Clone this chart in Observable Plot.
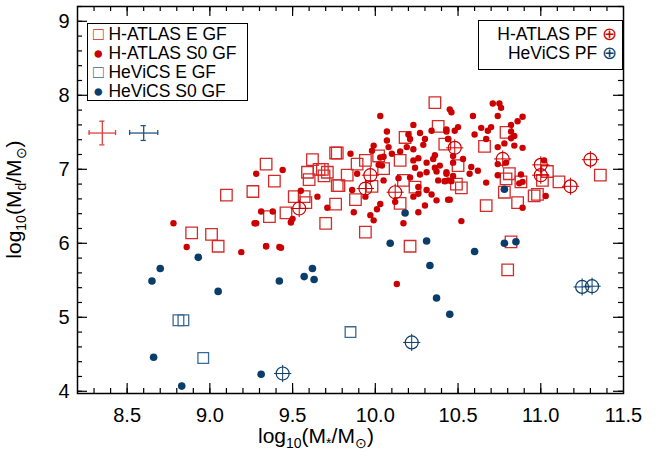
<!DOCTYPE html>
<html><head><meta charset="utf-8">
<script src="https://cdn.jsdelivr.net/npm/d3@7"></script>
<script src="https://cdn.jsdelivr.net/npm/@observablehq/plot@0.6"></script>
<style>
body{margin:0;background:#fff;font-family:"Liberation Sans",Arial,sans-serif}
#wrap{position:relative;width:667px;height:462px}
.lab{position:absolute;font-size:21px;color:#000;white-space:nowrap}
.leg{position:absolute;border:1.5px solid #000;background:#fff;font-size:17.5px;line-height:19px;padding:1px 5px;box-sizing:border-box;white-space:nowrap}
</style></head><body>
<div id="wrap"></div>
<script>
const red="#cc0000", blue="#0b3d6b";
const atlasE=[[9.34,7.07],[9.39,6.84],[9.26,6.70],[9.10,6.65],[9.62,7.13],[9.59,6.96],[9.66,7.00],[9.68,7.00],[9.71,6.96],[9.69,6.91],[9.60,6.86],[9.77,7.22],[9.77,6.78],[9.51,6.63],[9.57,6.63],[9.58,6.55],[9.36,6.36],[9.46,6.41],[9.70,6.27],[9.76,6.53],
[10.36,7.90],[10.38,7.58],[10.42,7.34],[9.76,7.22],[9.89,7.07],[9.94,7.12],[10.02,7.18],[10.05,7.01],[10.15,7.12],[10.18,7.43],[9.83,6.92],[9.78,6.78],[9.98,6.77],[10.17,6.85],[10.24,6.76],[9.88,6.59],[10.15,6.54],[9.94,6.15],[10.21,5.96],
[10.79,7.50],[10.66,7.31],[10.50,7.05],[10.49,6.80],[10.52,6.75],[10.81,6.94],[10.79,6.87],[10.78,6.69],[10.88,6.83],[10.86,6.55],[10.67,6.51],[10.96,6.64],[10.98,6.66],[11.01,6.85],[11.04,6.97],[11.11,6.83],[10.82,6.02],[11.36,6.92],[10.80,5.64],
[8.89,6.14],[9.01,6.12],[9.05,5.96]];
const atlasS0=[[9.28,6.94],[9.44,6.99],[9.55,6.71],[9.65,6.63],[9.71,6.48],[9.31,6.43],[9.38,6.43],[9.50,6.33],[9.49,6.29],[9.28,6.27],[9.34,5.96],[9.43,5.94],
[10.03,7.72],[10.23,7.60],[10.07,7.51],[10.20,7.47],[10.27,7.49],[10.34,7.52],[10.43,7.54],[10.07,7.39],[10.21,7.41],[10.30,7.41],[9.99,7.32],[10.08,7.30],[10.19,7.30],[10.29,7.33],[10.44,7.41],[9.98,7.25],[10.10,7.21],[10.15,7.24],[10.23,7.27],[9.85,7.21],[10.03,7.16],[10.05,7.17],[10.23,7.12],[10.26,7.15],[10.36,7.19],[10.35,7.14],[10.31,7.09],[10.02,7.06],[10.04,7.05],[10.39,7.05],[10.36,7.02],[10.24,7.02],[10.37,6.97],[10.43,6.94],[9.89,6.94],[10.21,6.89],[10.27,6.93],[10.31,6.96],[10.14,6.88],[10.05,6.85],[10.38,6.85],[10.42,6.84],[10.44,6.85],[9.86,6.72],[10.26,6.76],[10.26,6.67],[10.31,6.72],[10.23,6.63],[10.34,6.66],[10.37,6.58],[10.44,6.59],[9.94,6.63],[10.03,6.53],[10.12,6.56],[10.30,6.51],[10.01,6.46],[9.87,6.42],[9.97,6.38],[9.99,6.31],[10.26,6.42],[10.17,6.27],
[10.71,7.89],[10.75,7.89],[10.76,7.83],[10.45,7.81],[10.46,7.77],[10.59,7.72],[10.74,7.72],[10.89,7.71],[10.86,7.65],[10.82,7.60],[10.64,7.56],[10.70,7.57],[10.68,7.52],[10.50,7.57],[10.48,7.52],[10.43,7.51],[10.60,7.47],[10.82,7.51],[10.84,7.45],[10.82,7.42],[10.67,7.41],[10.78,7.35],[10.84,7.32],[10.89,7.29],[10.74,7.30],[10.44,7.41],[10.47,7.18],[10.53,7.14],[10.74,7.07],[10.79,7.09],[10.58,7.03],[10.62,6.98],[10.57,6.94],[10.47,7.09],[10.43,6.96],[10.47,6.91],[10.42,6.84],[10.46,6.84],[10.74,6.92],[10.88,6.93],[10.87,6.81],[10.89,6.83],[10.67,6.82],[11.02,7.12],[11.03,6.64],[10.45,6.59],[10.89,6.48],[10.52,6.30],
[8.78,6.27],[8.86,5.95],[9.19,5.88],[9.34,5.96],[9.42,5.95],[9.27,6.27],[9.49,6.28],[10.13,5.45]];
const hevicsE=[[8.81,4.96],[8.84,4.96],[8.96,4.45],[9.85,4.80]];
const hevicsS0=[[8.70,5.66],[8.65,5.49],[8.93,5.81],[9.05,5.35],[9.42,5.49],[9.57,5.55],[9.62,5.66],[9.63,5.51],[8.66,4.46],[8.83,4.07],[9.31,4.23],[10.18,6.41],[10.09,6.00],[10.31,6.03],[10.33,5.70],[10.37,5.26],[10.45,5.04],[10.60,5.89],[10.78,6.73],[10.78,6.00],[10.85,6.02]];
const atlasPF=[[9.54,6.47],[9.97,6.92],[9.94,6.74],[10.12,6.69],[10.48,7.29],[10.77,7.14],[11.00,7.06],[11.00,6.92],[11.18,6.77],[11.30,7.13]];
const hevicsPF=[[9.44,4.24],[10.22,4.66],[11.25,5.41],[11.31,5.42]];
const errBars=[{x:8.35,y:7.49,dx:0.08,dy:0.16,c:"#e04040"},{x:8.60,y:7.49,dx:0.085,dy:0.1,c:"#1f5585"}];
const xMajor=[8.5,9.0,9.5,10.0,10.5,11.0,11.5];
const xMinor=d3.range(83,115).map(d=>d/10);
const yMajor=[4,5,6,7,8,9];
const yMinor=d3.range(20,47).map(d=>d/5);

const xd=[8.2,11.5], yd=[3.97,9.2];
const pxX=(xd[1]-xd[0])/546, pxY=(yd[1]-yd[0])/387;
const tk={stroke:"#000",strokeWidth:1.2};
const cap=0.035;
const plot=Plot.plot({
  width:667,height:462,marginLeft:77,marginRight:44,marginTop:6,marginBottom:69,
  x:{domain:xd},y:{domain:yd},
  style:{fontFamily:"Liberation Sans, Arial, sans-serif",fontSize:"20px",color:"#000"},
  marks:[
    Plot.frame({stroke:"#000",strokeWidth:1.5}),
    Plot.ruleX(xMajor.slice(0,-1),{x:d=>d,y1:yd[0],y2:yd[0]+10*pxY,...tk}),
    Plot.ruleX(xMinor,{x:d=>d,y1:yd[0],y2:yd[0]+5*pxY,...tk}),
    Plot.ruleX(xMajor.slice(0,-1),{x:d=>d,y1:yd[1],y2:yd[1]-10*pxY,...tk}),
    Plot.ruleX(xMinor,{x:d=>d,y1:yd[1],y2:yd[1]-5*pxY,...tk}),
    Plot.ruleY(yMajor,{y:d=>d,x1:xd[0],x2:xd[0]+10*pxX,...tk}),
    Plot.ruleY(yMinor,{y:d=>d,x1:xd[0],x2:xd[0]+5*pxX,...tk}),
    Plot.ruleY(yMajor,{y:d=>d,x1:xd[1],x2:xd[1]-10*pxX,...tk}),
    Plot.ruleY(yMinor,{y:d=>d,x1:xd[1],x2:xd[1]-5*pxX,...tk}),
    Plot.axisX({ticks:xMajor,anchor:"bottom",tickSize:0,tickPadding:14,tickFormat:d3.format(".1f"),label:null,fontSize:20}),
    Plot.axisY({ticks:yMajor,anchor:"left",tickSize:0,tickPadding:8,tickFormat:d3.format("d"),label:null,fontSize:20}),
    Plot.ruleY(errBars,{y:"y",x1:d=>d.x-d.dx,x2:d=>d.x+d.dx,stroke:"c",strokeWidth:1.3}),
    Plot.ruleX(errBars,{x:"x",y1:d=>d.y-d.dy,y2:d=>d.y+d.dy,stroke:"c",strokeWidth:1.3}),
    Plot.ruleX(errBars,{x:d=>d.x-d.dx,y1:d=>d.y-cap,y2:d=>d.y+cap,stroke:"c",strokeWidth:1.3}),
    Plot.ruleX(errBars,{x:d=>d.x+d.dx,y1:d=>d.y-cap,y2:d=>d.y+cap,stroke:"c",strokeWidth:1.3}),
    Plot.ruleY(errBars,{y:d=>d.y-d.dy,x1:d=>d.x-cap*0.45,x2:d=>d.x+cap*0.45,stroke:"c",strokeWidth:1.3}),
    Plot.ruleY(errBars,{y:d=>d.y+d.dy,x1:d=>d.x-cap*0.45,x2:d=>d.x+cap*0.45,stroke:"c",strokeWidth:1.3}),
    Plot.dot(atlasE,{x:"0",y:"1",symbol:"square",r:6.5,stroke:"#d42a2a",strokeWidth:1.3,fill:"none"}),
    Plot.dot(atlasS0,{x:"0",y:"1",r:3.2,fill:red}),
    Plot.dot(hevicsE,{x:"0",y:"1",symbol:"square",r:6,stroke:"#3a6a96",strokeWidth:1.3,fill:"none"}),
    Plot.dot(hevicsS0,{x:"0",y:"1",r:3.8,fill:blue}),
    Plot.dot(atlasPF,{x:"0",y:"1",r:6.5,stroke:red,strokeWidth:1.2,fill:"none"}),
    Plot.dot(atlasPF,{x:"0",y:"1",symbol:"plus",r:5.6,stroke:red,strokeWidth:1}),
    Plot.dot(hevicsPF,{x:"0",y:"1",r:6.5,stroke:blue,strokeWidth:1.2,fill:"none"}),
    Plot.dot(hevicsPF,{x:"0",y:"1",symbol:"plus",r:5.6,stroke:blue,strokeWidth:1})
  ]
});
const wrap=document.getElementById("wrap");
wrap.appendChild(plot);
wrap.insertAdjacentHTML("beforeend",`
<div class="lab" style="left:258px;top:424px">log<sub style="font-size:14px">10</sub>(M<sub style="font-size:14px">*</sub>/M<sub style="font-size:14px">⊙</sub>)</div>
<div class="lab" style="left:-44px;top:186px;transform:rotate(-90deg)">log<sub style="font-size:14px">10</sub>(M<sub style="font-size:14px">d</sub>/M<sub style="font-size:14px">⊙</sub>)</div>
<div class="leg" style="left:87px;top:23px;width:161px;height:78px">
<div><span style="color:#d42a2a">□</span> H-ATLAS E GF</div>
<div><span style="color:${red}">●</span> H-ATLAS S0 GF</div>
<div><span style="color:#3a6a96">□</span> HeViCS E GF</div>
<div><span style="color:${blue}">●</span> HeViCS S0 GF</div></div>
<div class="leg" style="left:478px;top:20px;width:145px;height:50px;text-align:right;padding-top:4px">
<div>H-ATLAS PF <span style="color:${red}">⊕</span></div>
<div>HeViCS PF <span style="color:${blue}">⊕</span></div></div>`);
</script></body></html>
